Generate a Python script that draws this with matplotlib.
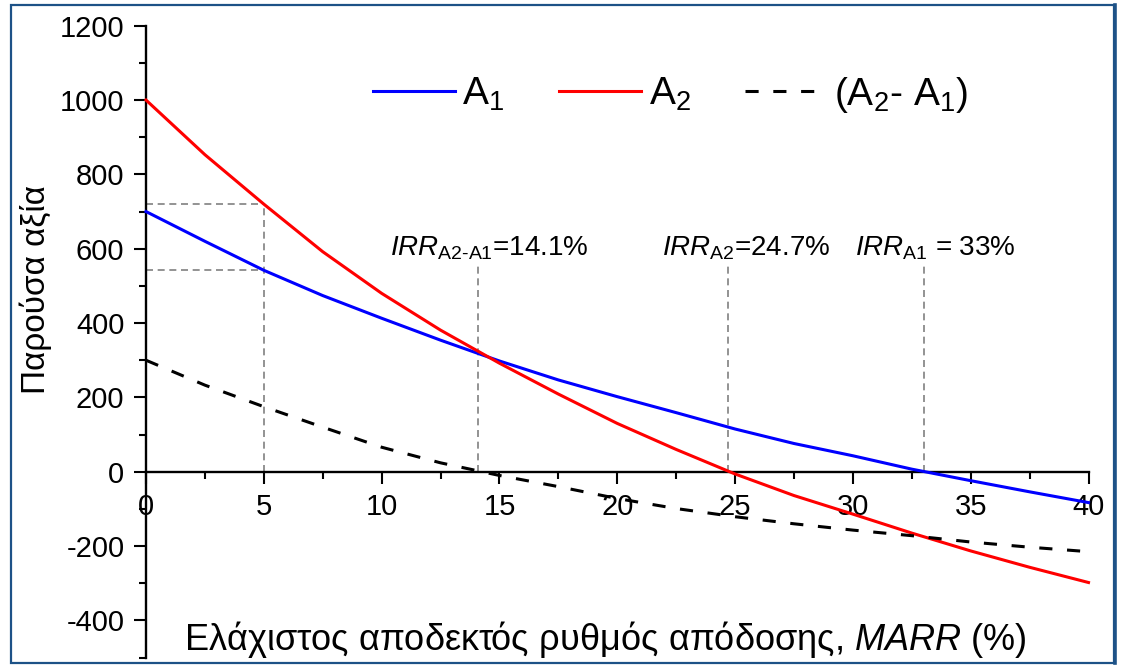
import matplotlib
matplotlib.use("Agg")
import matplotlib.pyplot as plt
from matplotlib.lines import Line2D
from matplotlib.patches import Rectangle
from matplotlib.ticker import MultipleLocator

plt.rcParams['font.family'] = ['Liberation Sans', 'DejaVu Sans']
plt.rcParams['mathtext.fontset'] = 'custom'
plt.rcParams['mathtext.rm'] = 'Liberation Sans'
plt.rcParams['mathtext.it'] = 'Liberation Sans:italic'
plt.rcParams['mathtext.bf'] = 'Liberation Sans:bold'
plt.rcParams['axes.unicode_minus'] = False

# ---- data ----
marr = [0, 2.5, 5, 7.5, 10, 12.5, 15, 17.5, 20, 22.5, 25, 27.5, 30, 32.5, 35, 37.5, 40]
pw_a1 = [700, 620, 542, 474, 413, 354, 298, 247, 202, 159, 115, 76, 43, 7, -24, -54, -83]
pw_a2 = [1000, 853, 720, 592, 480, 381, 292, 209, 130, 60, -6, -64, -114, -165, -213, -257, -298]
pw_diff = [300, 233, 175, 120, 66, 24, -10, -40, -72, -99, -121, -140, -157, -172, -189, -203, -215]

ref_marr = 5
ref_pw = [720, 542]
irr_values = [14.1, 24.7, 33.0]
irr_line_top = 555
irr_labels = [r'$\mathit{IRR}_{\mathrm{A2\text{-}A1}}$=14.1%',
              r'$\mathit{IRR}_{\mathrm{A2}}$=24.7%',
              r'$\mathit{IRR}_{\mathrm{A1}}$ = 33%']
irr_label_x = [10.35, 21.9, 30.1]
irr_label_y = 583

legend_labels = [r'A$_{\mathrm{1}}$', r'A$_{\mathrm{2}}$', r'(A$_{\mathrm{2}}$- A$_{\mathrm{1}}$)']
xlabel = r'Ελάχιστος αποδεκτός ρυθμός απόδοσης, $\mathit{MARR}$ (%)'
ylabel = 'Παρούσα αξία'

W, H = 1121, 665
fig = plt.figure(figsize=(W / 100, H / 100), dpi=100)
ax = fig.add_axes([146 / W, 1 - 657.6 / H, (1088.5 - 146) / W, (657.6 - 25.7) / H])
ax.set_xlim(0, 40)
ax.set_ylim(-500, 1200)

# reference guide lines
gkw = dict(color='#808080', lw=1.2, dashes=(4.2, 2.8), zorder=1)
ax.plot([ref_marr, ref_marr], [0, ref_pw[0]], **gkw)
for v in ref_pw:
    ax.plot([0, ref_marr], [v, v], **gkw)
for xv in irr_values:
    ax.plot([xv, xv], [0, irr_line_top], **gkw)

l1, = ax.plot(marr, pw_a1, color='#0000ff', lw=2.2, clip_on=False, zorder=3)
l2, = ax.plot(marr, pw_a2, color='#ff0000', lw=2.2, clip_on=False, zorder=3)
l3, = ax.plot(marr, pw_diff, color='black', lw=2.2, dashes=(4.3, 4.8), clip_on=False, zorder=3)

for lab, xv in zip(irr_labels, irr_label_x):
    ax.text(xv, irr_label_y, lab, fontsize=20, ha='left', va='baseline')

# spines
for s in ['top', 'right']:
    ax.spines[s].set_visible(False)
ax.spines['bottom'].set_position(('data', 0))
ax.spines['left'].set_linewidth(1.7)
ax.spines['bottom'].set_linewidth(1.7)

ax.xaxis.set_major_locator(MultipleLocator(5))
ax.xaxis.set_minor_locator(MultipleLocator(2.5))
ax.yaxis.set_major_locator(MultipleLocator(200))
ax.yaxis.set_minor_locator(MultipleLocator(100))
ax.tick_params(which='major', direction='out', length=8.5, width=1.5, labelsize=21)
ax.tick_params(which='minor', direction='out', length=5, width=1.5)
ax.tick_params(axis='x', pad=7)
ax.tick_params(axis='y', pad=7)

fig.text(605 / W, 1 - 650 / H, xlabel, fontsize=26, ha='center', va='baseline')
fig.text(36 / W, 1 - 290 / H, ylabel, fontsize=24, ha='center', va='center', rotation=90)

ax.legend([l1, l2, l3], legend_labels, ncol=3, frameon=False, fontsize=28,
          loc='center left', bbox_to_anchor=(373 / W, 1 - 95 / H),
          bbox_transform=fig.transFigure, borderpad=0, borderaxespad=0,
          handlelength=2.1, handletextpad=0.2, columnspacing=1.4)

# outer frame
fig.patches.append(Rectangle((11 / W, 2 / H), (1114 - 11) / W, (660 - 2) / H,
                             transform=fig.transFigure, fill=False,
                             edgecolor='#1d5287', lw=1.6, zorder=10))
fig.lines.append(Line2D([1114.5 / W, 1114.5 / W], [2 / H, 660 / H], transform=fig.transFigure,
                        color='#1d5287', lw=2.6, zorder=10))

fig.savefig('out.png', dpi=100)
